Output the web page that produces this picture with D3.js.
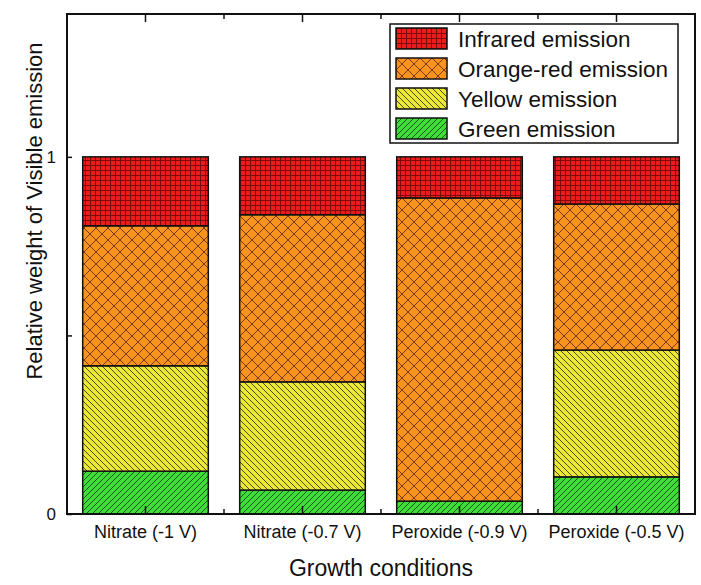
<!DOCTYPE html>
<html>
<head>
<meta charset="utf-8">
<script src="https://cdn.jsdelivr.net/npm/d3@7"></script>
<style>
  body { margin: 0; background: #fff; }
  svg { display: block; font-family: Arial, "Liberation Sans", sans-serif; }
</style>
</head>
<body>
<svg id="chart" width="701" height="585"></svg>
<script>
const conditions = ["Nitrate (-1 V)", "Nitrate (-0.7 V)", "Peroxide (-0.9 V)", "Peroxide (-0.5 V)"];
const green = [0.120, 0.067, 0.036, 0.104];
const yellow = [0.295, 0.303, 0.000, 0.355];
const orange = [0.392, 0.468, 0.849, 0.409];
const infrared = [0.193, 0.162, 0.115, 0.132];
const seriesNames = ["Green emission", "Yellow emission", "Orange-red emission", "Infrared emission"];
const yTicks = [0, 0.5, 1];

const rows = conditions.map((c, i) => ({
  cond: c,
  "Green emission": green[i],
  "Yellow emission": yellow[i],
  "Orange-red emission": orange[i],
  "Infrared emission": infrared[i]
}));

const plot = { left: 67, right: 695, top: 14, bottom: 514 };

const svg = d3.select("#chart");
const defs = svg.append("defs");

// hatch patterns
function hatch(id, bg, size, draw) {
  const p = defs.append("pattern")
    .attr("id", id)
    .attr("patternUnits", "userSpaceOnUse")
    .attr("width", size).attr("height", size);
  p.append("rect").attr("width", size).attr("height", size).attr("fill", bg);
  draw(p, size);
}
hatch("p-ir", "#ec1c1c", 5, (p, s) => {
  p.append("path").attr("d", `M0,0.5H${s}M0.5,0V${s}`)
    .attr("stroke", "#7a0c0c").attr("stroke-width", 1);
});
hatch("p-or", "#f7931e", 12, (p, s) => {
  p.append("path").attr("d", `M0,0L${s},${s}M${s},0L0,${s}`)
    .attr("stroke", "#7a3a10").attr("stroke-width", 1);
});
hatch("p-ye", "#ebe838", 6, (p, s) => {
  p.append("path").attr("d", `M0,0L${s},${s}M${-s},0L${s},${2 * s}M0,${-s}L${2 * s},${s}`)
    .attr("stroke", "#4a4a10").attr("stroke-width", 1);
});
hatch("p-gr", "#3fdc3a", 6, (p, s) => {
  p.append("path").attr("d", `M0,${s}L${s},0M${-s},${s}L${s},${-s}M0,${2 * s}L${2 * s},0`)
    .attr("stroke", "#145a14").attr("stroke-width", 1);
});
const fills = {
  "Green emission": "url(#p-gr)",
  "Yellow emission": "url(#p-ye)",
  "Orange-red emission": "url(#p-or)",
  "Infrared emission": "url(#p-ir)"
};

const x = d3.scaleBand().domain(conditions).range([plot.left, plot.right])
  .paddingInner(0.2).paddingOuter(0.1);
const y = d3.scaleLinear().domain([0, 1.4]).range([plot.bottom, plot.top]);

const stacked = d3.stack().keys(seriesNames)(rows);

svg.append("g")
  .selectAll("g")
  .data(stacked)
  .join("g")
  .attr("fill", d => fills[d.key])
  .selectAll("rect")
  .data(d => d.filter(s => s[1] - s[0] > 0))
  .join("rect")
  .attr("x", d => x(d.data.cond))
  .attr("width", x.bandwidth())
  .attr("y", d => y(d[1]))
  .attr("height", d => y(d[0]) - y(d[1]))
  .attr("stroke", "#111")
  .attr("stroke-width", 1.5);

// frame
svg.append("rect")
  .attr("x", plot.left).attr("y", plot.top)
  .attr("width", plot.right - plot.left).attr("height", plot.bottom - plot.top)
  .attr("fill", "none").attr("stroke", "#111").attr("stroke-width", 2);

// y axis
const yAxis = svg.append("g")
  .attr("transform", `translate(${plot.left},0)`)
  .call(d3.axisLeft(y).tickValues(yTicks).tickSize(-5).tickPadding(11)
    .tickFormat(d => d === 0.5 ? "" : d3.format("d")(d)));
yAxis.select(".domain").remove();
yAxis.selectAll("text").attr("font-size", 17).attr("fill", "#111");
yAxis.selectAll("line").attr("stroke", "#111").attr("stroke-width", 1.5);

// x axis, ticks inside
const xAxis = svg.append("g")
  .attr("transform", `translate(0,${plot.bottom})`)
  .call(d3.axisBottom(x).tickSize(-8).tickPadding(11));
xAxis.select(".domain").remove();
xAxis.selectAll("text").attr("font-size", 18).attr("fill", "#111");
xAxis.selectAll("line").attr("stroke", "#111").attr("stroke-width", 1.5);

// minor ticks between bars
const mids = conditions.slice(1).map(c => x(c) - x.step() * x.paddingInner() / 2);
svg.append("g").selectAll("line")
  .data(mids)
  .join("line")
  .attr("x1", d => d).attr("x2", d => d)
  .attr("y1", plot.bottom).attr("y2", plot.bottom - 5)
  .attr("stroke", "#111").attr("stroke-width", 1.5);

// top mirrored ticks
const topAxis = svg.append("g")
  .attr("transform", `translate(0,${plot.top})`)
  .call(d3.axisTop(x).tickSize(-8).tickFormat(""));
topAxis.select(".domain").remove();
topAxis.selectAll("line").attr("stroke", "#111").attr("stroke-width", 1.5);
svg.append("g").selectAll("line")
  .data(mids)
  .join("line")
  .attr("x1", d => d).attr("x2", d => d)
  .attr("y1", plot.top).attr("y2", plot.top + 5)
  .attr("stroke", "#111").attr("stroke-width", 1.5);

// axis titles
svg.append("text")
  .attr("x", 381).attr("y", 576)
  .attr("text-anchor", "middle")
  .attr("font-size", 23).attr("fill", "#111")
  .text("Growth conditions");
svg.append("text")
  .attr("transform", `translate(42,211) rotate(-90)`)
  .attr("text-anchor", "middle")
  .attr("font-size", 22).attr("fill", "#111")
  .text("Relative weight of Visible emission");

// legend
const legendOrder = ["Infrared emission", "Orange-red emission", "Yellow emission", "Green emission"];
const legend = svg.append("g");
legend.append("rect")
  .attr("x", 390).attr("y", 24).attr("width", 288).attr("height", 119)
  .attr("fill", "#fff").attr("stroke", "#111").attr("stroke-width", 1.5);
const item = legend.selectAll("g.item")
  .data(legendOrder)
  .join("g")
  .attr("class", "item")
  .attr("transform", (d, i) => `translate(396,${28 + i * 30})`);
item.append("rect")
  .attr("width", 51).attr("height", 21)
  .attr("fill", d => fills[d])
  .attr("stroke", "#111").attr("stroke-width", 1.5);
item.append("text")
  .attr("x", 62).attr("y", 19)
  .attr("font-size", 22.5).attr("fill", "#111")
  .text(d => d);
</script>
</body>
</html>
